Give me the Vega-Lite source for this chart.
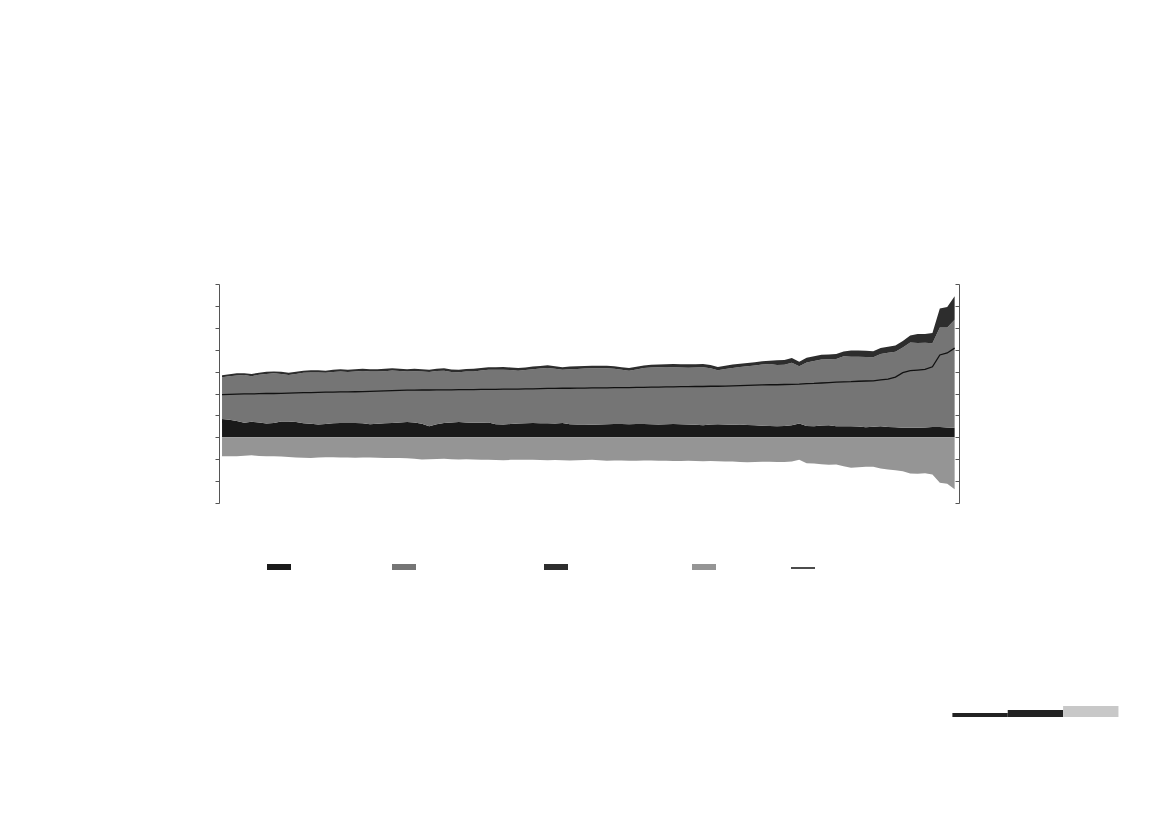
{
  "$schema": "https://vega.github.io/schema/vega-lite/v6.json",
  "autosize": {"type": "pad"},
  "padding": {"left": 214, "top": 283, "right": 0, "bottom": 0},
  "background": "white",
  "config": {
    "view": {"stroke": null},
    "axis": {"domainColor": "#555555", "tickColor": "#555555", "labels": false, "grid": false, "title": null, "tickSize": 4, "domainWidth": 1, "tickWidth": 1},
    "legend": {"orient": "none", "legendY": 271, "direction": "horizontal", "padding": 0, "title": null,
               "labelOpacity": 0, "labelFont": "Liberation Sans", "labelFontSize": 11, "labelOffset": 5, "columnPadding": 10}
  },
  "spacing": 202,
  "vconcat": [
    {
      "width": 740,
      "height": 219,
      "data": {"values": [
        {"i":0,"a":0.84,"b":1.90,"c":0.09,"d":-0.87,"net":1.95},
        {"i":1,"a":0.80,"b":1.99,"c":0.09,"d":-0.87,"net":1.96},
        {"i":2,"a":0.74,"b":2.08,"c":0.10,"d":-0.86,"net":1.97},
        {"i":3,"a":0.66,"b":2.18,"c":0.09,"d":-0.84,"net":1.98},
        {"i":4,"a":0.71,"b":2.08,"c":0.10,"d":-0.82,"net":1.98},
        {"i":5,"a":0.68,"b":2.18,"c":0.09,"d":-0.85,"net":1.99},
        {"i":6,"a":0.63,"b":2.26,"c":0.10,"d":-0.87,"net":2.00},
        {"i":7,"a":0.65,"b":2.27,"c":0.09,"d":-0.86,"net":2.00},
        {"i":8,"a":0.72,"b":2.17,"c":0.10,"d":-0.88,"net":2.01},
        {"i":9,"a":0.72,"b":2.13,"c":0.10,"d":-0.90,"net":2.02},
        {"i":10,"a":0.70,"b":2.19,"c":0.10,"d":-0.92,"net":2.03},
        {"i":11,"a":0.64,"b":2.31,"c":0.09,"d":-0.93,"net":2.04},
        {"i":12,"a":0.62,"b":2.34,"c":0.10,"d":-0.94,"net":2.04},
        {"i":13,"a":0.58,"b":2.38,"c":0.10,"d":-0.92,"net":2.05},
        {"i":14,"a":0.61,"b":2.34,"c":0.09,"d":-0.91,"net":2.06},
        {"i":15,"a":0.64,"b":2.34,"c":0.10,"d":-0.91,"net":2.06},
        {"i":16,"a":0.65,"b":2.36,"c":0.10,"d":-0.92,"net":2.07},
        {"i":17,"a":0.65,"b":2.33,"c":0.10,"d":-0.92,"net":2.07},
        {"i":18,"a":0.65,"b":2.36,"c":0.10,"d":-0.93,"net":2.08},
        {"i":19,"a":0.64,"b":2.39,"c":0.10,"d":-0.92,"net":2.09},
        {"i":20,"a":0.60,"b":2.41,"c":0.10,"d":-0.92,"net":2.10},
        {"i":21,"a":0.62,"b":2.39,"c":0.10,"d":-0.93,"net":2.11},
        {"i":22,"a":0.64,"b":2.38,"c":0.11,"d":-0.94,"net":2.12},
        {"i":23,"a":0.65,"b":2.40,"c":0.10,"d":-0.94,"net":2.13},
        {"i":24,"a":0.68,"b":2.35,"c":0.10,"d":-0.95,"net":2.14},
        {"i":25,"a":0.70,"b":2.31,"c":0.10,"d":-0.96,"net":2.15},
        {"i":26,"a":0.68,"b":2.34,"c":0.11,"d":-0.98,"net":2.15},
        {"i":27,"a":0.62,"b":2.39,"c":0.10,"d":-1.01,"net":2.16},
        {"i":28,"a":0.50,"b":2.48,"c":0.11,"d":-1.00,"net":2.16},
        {"i":29,"a":0.60,"b":2.43,"c":0.10,"d":-0.99,"net":2.17},
        {"i":30,"a":0.65,"b":2.39,"c":0.11,"d":-0.98,"net":2.17},
        {"i":31,"a":0.68,"b":2.30,"c":0.12,"d":-1.00,"net":2.17},
        {"i":32,"a":0.70,"b":2.27,"c":0.12,"d":-1.01,"net":2.18},
        {"i":33,"a":0.68,"b":2.32,"c":0.12,"d":-1.00,"net":2.18},
        {"i":34,"a":0.66,"b":2.35,"c":0.12,"d":-1.01,"net":2.18},
        {"i":35,"a":0.67,"b":2.38,"c":0.12,"d":-1.02,"net":2.19},
        {"i":36,"a":0.68,"b":2.40,"c":0.12,"d":-1.02,"net":2.19},
        {"i":37,"a":0.60,"b":2.48,"c":0.12,"d":-1.04,"net":2.19},
        {"i":38,"a":0.58,"b":2.51,"c":0.12,"d":-1.05,"net":2.20},
        {"i":39,"a":0.61,"b":2.46,"c":0.12,"d":-1.03,"net":2.20},
        {"i":40,"a":0.63,"b":2.41,"c":0.12,"d":-1.02,"net":2.20},
        {"i":41,"a":0.64,"b":2.43,"c":0.12,"d":-1.02,"net":2.21},
        {"i":42,"a":0.65,"b":2.46,"c":0.12,"d":-1.03,"net":2.21},
        {"i":43,"a":0.64,"b":2.50,"c":0.12,"d":-1.04,"net":2.22},
        {"i":44,"a":0.64,"b":2.53,"c":0.12,"d":-1.05,"net":2.23},
        {"i":45,"a":0.63,"b":2.50,"c":0.12,"d":-1.04,"net":2.23},
        {"i":46,"a":0.65,"b":2.43,"c":0.12,"d":-1.05,"net":2.24},
        {"i":47,"a":0.60,"b":2.51,"c":0.12,"d":-1.06,"net":2.24},
        {"i":48,"a":0.58,"b":2.54,"c":0.12,"d":-1.05,"net":2.25},
        {"i":49,"a":0.58,"b":2.56,"c":0.12,"d":-1.04,"net":2.25},
        {"i":50,"a":0.57,"b":2.58,"c":0.12,"d":-1.03,"net":2.26},
        {"i":51,"a":0.58,"b":2.57,"c":0.12,"d":-1.05,"net":2.26},
        {"i":52,"a":0.60,"b":2.55,"c":0.12,"d":-1.07,"net":2.26},
        {"i":53,"a":0.61,"b":2.52,"c":0.12,"d":-1.06,"net":2.27},
        {"i":54,"a":0.61,"b":2.47,"c":0.12,"d":-1.06,"net":2.27},
        {"i":55,"a":0.60,"b":2.44,"c":0.12,"d":-1.07,"net":2.27},
        {"i":56,"a":0.61,"b":2.49,"c":0.12,"d":-1.07,"net":2.28},
        {"i":57,"a":0.61,"b":2.55,"c":0.12,"d":-1.06,"net":2.28},
        {"i":58,"a":0.60,"b":2.59,"c":0.12,"d":-1.06,"net":2.29},
        {"i":59,"a":0.58,"b":2.62,"c":0.12,"d":-1.07,"net":2.29},
        {"i":60,"a":0.60,"b":2.61,"c":0.12,"d":-1.07,"net":2.30},
        {"i":61,"a":0.61,"b":2.59,"c":0.15,"d":-1.08,"net":2.30},
        {"i":62,"a":0.60,"b":2.59,"c":0.15,"d":-1.08,"net":2.31},
        {"i":63,"a":0.58,"b":2.60,"c":0.15,"d":-1.07,"net":2.31},
        {"i":64,"a":0.57,"b":2.62,"c":0.15,"d":-1.08,"net":2.32},
        {"i":65,"a":0.55,"b":2.65,"c":0.15,"d":-1.09,"net":2.32},
        {"i":66,"a":0.58,"b":2.57,"c":0.15,"d":-1.08,"net":2.33},
        {"i":67,"a":0.60,"b":2.46,"c":0.15,"d":-1.09,"net":2.33},
        {"i":68,"a":0.58,"b":2.54,"c":0.15,"d":-1.10,"net":2.34},
        {"i":69,"a":0.57,"b":2.60,"c":0.15,"d":-1.11,"net":2.35},
        {"i":70,"a":0.58,"b":2.63,"c":0.15,"d":-1.13,"net":2.36},
        {"i":71,"a":0.56,"b":2.68,"c":0.15,"d":-1.14,"net":2.37},
        {"i":72,"a":0.55,"b":2.73,"c":0.15,"d":-1.13,"net":2.38},
        {"i":73,"a":0.53,"b":2.79,"c":0.15,"d":-1.12,"net":2.39},
        {"i":74,"a":0.52,"b":2.83,"c":0.15,"d":-1.12,"net":2.40},
        {"i":75,"a":0.50,"b":2.80,"c":0.22,"d":-1.13,"net":2.40},
        {"i":76,"a":0.52,"b":2.79,"c":0.22,"d":-1.13,"net":2.41},
        {"i":77,"a":0.55,"b":2.85,"c":0.22,"d":-1.10,"net":2.42},
        {"i":78,"a":0.63,"b":2.62,"c":0.20,"d":-1.03,"net":2.43},
        {"i":79,"a":0.52,"b":2.89,"c":0.22,"d":-1.18,"net":2.45},
        {"i":80,"a":0.50,"b":2.98,"c":0.22,"d":-1.20,"net":2.46},
        {"i":81,"a":0.54,"b":3.01,"c":0.22,"d":-1.23,"net":2.48},
        {"i":82,"a":0.55,"b":3.01,"c":0.22,"d":-1.25,"net":2.50},
        {"i":83,"a":0.50,"b":3.08,"c":0.22,"d":-1.24,"net":2.52},
        {"i":84,"a":0.50,"b":3.20,"c":0.22,"d":-1.32,"net":2.53},
        {"i":85,"a":0.50,"b":3.18,"c":0.28,"d":-1.39,"net":2.54},
        {"i":86,"a":0.49,"b":3.19,"c":0.28,"d":-1.37,"net":2.56},
        {"i":87,"a":0.46,"b":3.21,"c":0.28,"d":-1.35,"net":2.57},
        {"i":88,"a":0.48,"b":3.17,"c":0.28,"d":-1.34,"net":2.58},
        {"i":89,"a":0.50,"b":3.30,"c":0.28,"d":-1.42,"net":2.62},
        {"i":90,"a":0.47,"b":3.39,"c":0.28,"d":-1.47,"net":2.66},
        {"i":91,"a":0.46,"b":3.45,"c":0.28,"d":-1.50,"net":2.75},
        {"i":92,"a":0.44,"b":3.66,"c":0.30,"d":-1.55,"net":2.95},
        {"i":93,"a":0.44,"b":3.89,"c":0.32,"d":-1.65,"net":3.04},
        {"i":94,"a":0.44,"b":3.87,"c":0.41,"d":-1.66,"net":3.07},
        {"i":95,"a":0.45,"b":3.87,"c":0.40,"d":-1.64,"net":3.10},
        {"i":96,"a":0.47,"b":3.83,"c":0.46,"d":-1.70,"net":3.22},
        {"i":97,"a":0.47,"b":4.54,"c":0.87,"d":-2.08,"net":3.76},
        {"i":98,"a":0.45,"b":4.56,"c":0.94,"d":-2.12,"net":3.85},
        {"i":99,"a":0.44,"b":4.93,"c":1.07,"d":-2.37,"net":4.07}
      ]},
      "layer": [
        {
          "transform": [
            {"fold": ["a", "b", "c", "d"], "as": ["k", "value"]},
            {"lookup": "k", "from": {"data": {"values": [
              {"k": "a", "series": "Wages & salaries", "rank": 1},
              {"k": "b", "series": "Pensions and transfers", "rank": 2},
              {"k": "c", "series": "Other market incomes", "rank": 3},
              {"k": "d", "series": "Direct taxes", "rank": 4}
            ]}, "key": "k", "fields": ["series", "rank"]}}
          ],
          "mark": {"type": "area", "interpolate": "linear", "opacity": 1},
          "encoding": {
            "x": {"field": "i", "type": "quantitative", "scale": {"domain": [-0.41, 99.59], "nice": false, "zero": false}, "axis": null},
            "y": {"field": "value", "type": "quantitative", "stack": "zero", "scale": {"domain": [-3, 7], "nice": false, "zero": false},
                  "axis": {"orient": "left", "values": [-3, -2, -1, 0, 1, 2, 3, 4, 5, 6, 7]}},
            "color": {
              "field": "series", "type": "nominal",
              "scale": {"domain": ["Wages & salaries", "Pensions and transfers", "Other market incomes", "Direct taxes"],
                        "range": ["#1a1a1a", "#757575", "#2d2d2d", "#959595"]},
              "legend": {
                "legendX": 48, "columns": 4,
                "symbolType": "M-1,-0.25H1V0.25H-1Z", "symbolSize": 576, "symbolStrokeWidth": 0, "symbolOpacity": 1
              }
            },
            "order": {"field": "rank", "type": "quantitative"}
          }
        },
        {
          "mark": {"type": "line", "strokeWidth": 1.3},
          "encoding": {
            "x": {"field": "i", "type": "quantitative", "axis": null},
            "y": {"field": "net", "type": "quantitative",
                  "axis": {"orient": "right", "tickSize": -4, "values": [-3, -2, -1, 0, 1, 2, 3, 4, 5, 6, 7]}},
            "stroke": {
              "datum": "Net income", "type": "nominal",
              "scale": {"domain": ["Net income"], "range": ["#111111"]},
              "legend": {"legendX": 571, "symbolType": "stroke", "symbolSize": 576, "symbolStrokeWidth": 1.5}
            }
          }
        }
      ],
      "resolve": {"axis": {"y": "independent"}}
    },
    {
      "width": 900,
      "height": 11,
      "data": {"values": [
        {"s": 0, "e": 1, "h": 4, "part": "p1"},
        {"s": 1, "e": 2, "h": 7, "part": "p2"},
        {"s": 2, "e": 3, "h": 11, "part": "p3"}
      ]},
      "mark": {"type": "rect"},
      "encoding": {
        "x": {"field": "s", "type": "quantitative", "scale": {"domain": [-13.25, 3.01], "nice": false, "zero": false}, "axis": null},
        "x2": {"field": "e"},
        "y": {"field": "h", "type": "quantitative", "scale": {"domain": [0, 11], "nice": false}, "axis": null},
        "y2": {"datum": 0},
        "fill": {"field": "part", "type": "nominal", "scale": {"domain": ["p1", "p2", "p3"], "range": ["#222222", "#222222", "#c8c8c8"]}, "legend": null}
      }
    }
  ]
}
